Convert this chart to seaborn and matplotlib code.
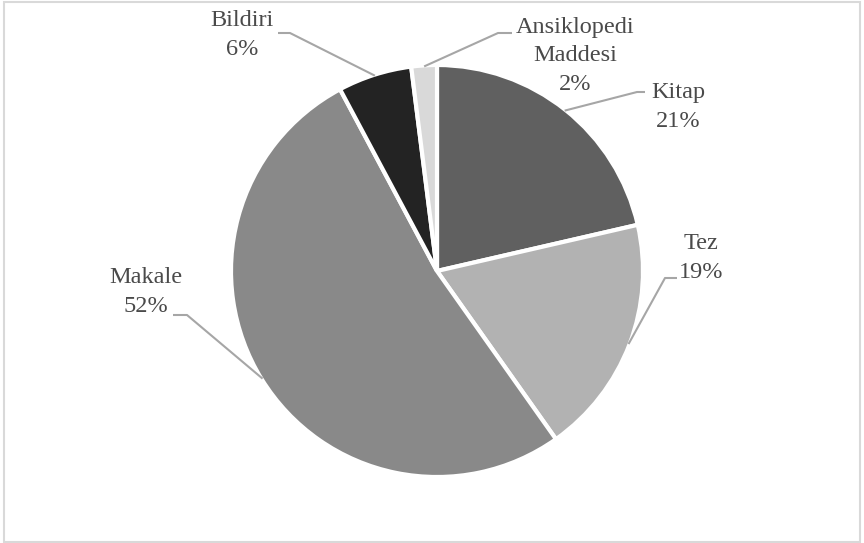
import matplotlib
matplotlib.use("Agg")
import matplotlib.pyplot as plt
import matplotlib.patches as mpatches
import numpy as np
import seaborn as sb

# data (share of each publication type, %)
categories = ["Kitap", "Tez", "Makale", "Bildiri", "Ansiklopedi\nMaddesi"]
shares = [21.4, 18.8, 52.0, 5.8, 2.0]
colors = ["#606060", "#b2b2b2", "#898989", "#232323", "#d9d9d9"]

sb.set_theme(style="white")
plt.rcParams["font.family"] = ["Liberation Serif", "DejaVu Serif"]

W, H = 864, 543
cx, cy, R = 437, 271, 206  # pie centre / radius in pixels


def px(x, y):
    # pixel position -> data units of the pie (radius 1)
    return (x - cx) / R, (cy - y) / R


fig = plt.figure(figsize=(W / 100, H / 100), dpi=100)
ax = fig.add_axes([0, 0, 1, 1])

wedges, _ = ax.pie(shares, colors=colors, startangle=90, counterclock=False,
                   radius=1, center=(0, 0), frame=True,
                   wedgeprops=dict(edgecolor="white", linewidth=3))
ax.set_xlim(-cx / R, (W - cx) / R)
ax.set_ylim(-(H - cy) / R, cy / R)
ax.axis("off")

# label block centres and leader line start/knee, in pixels
label_pos = [(678, 107), (701, 258), (146, 292), (242, 35), (575, 56)]
leader = [((645, 92), (637, 92)),
          ((677, 278), (665, 278)),
          ((173, 315), (187, 315)),
          ((278, 33), (290, 33)),
          ((512, 33), (498, 33))]

for w, name, v, pos, (p0, p1) in zip(wedges, categories, shares, label_pos, leader):
    tx, ty = px(*pos)
    ax.text(tx, ty, f"{name}\n{v:.0f}%", ha="center", va="center",
            fontsize=17.5, color="#4a4a4a", linespacing=1.45)
    mid = np.deg2rad((w.theta1 + w.theta2) / 2)
    ex, ey = 0.995 * np.cos(mid), 0.995 * np.sin(mid)
    x0, y0 = px(*p0)
    x1, y1 = px(*p1)
    ax.plot([x0, x1, ex], [y0, y1, ey], color="#a6a6a6", lw=1.5,
            solid_capstyle="butt", zorder=3)

# light chart border
fig.patches.append(mpatches.Rectangle((4 / W, 1 / H), 1 - 8 / W, 1 - 3 / H,
                                      transform=fig.transFigure, fill=False,
                                      edgecolor="#d9d9d9", lw=1.5))

fig.savefig("out.png", dpi=100)
